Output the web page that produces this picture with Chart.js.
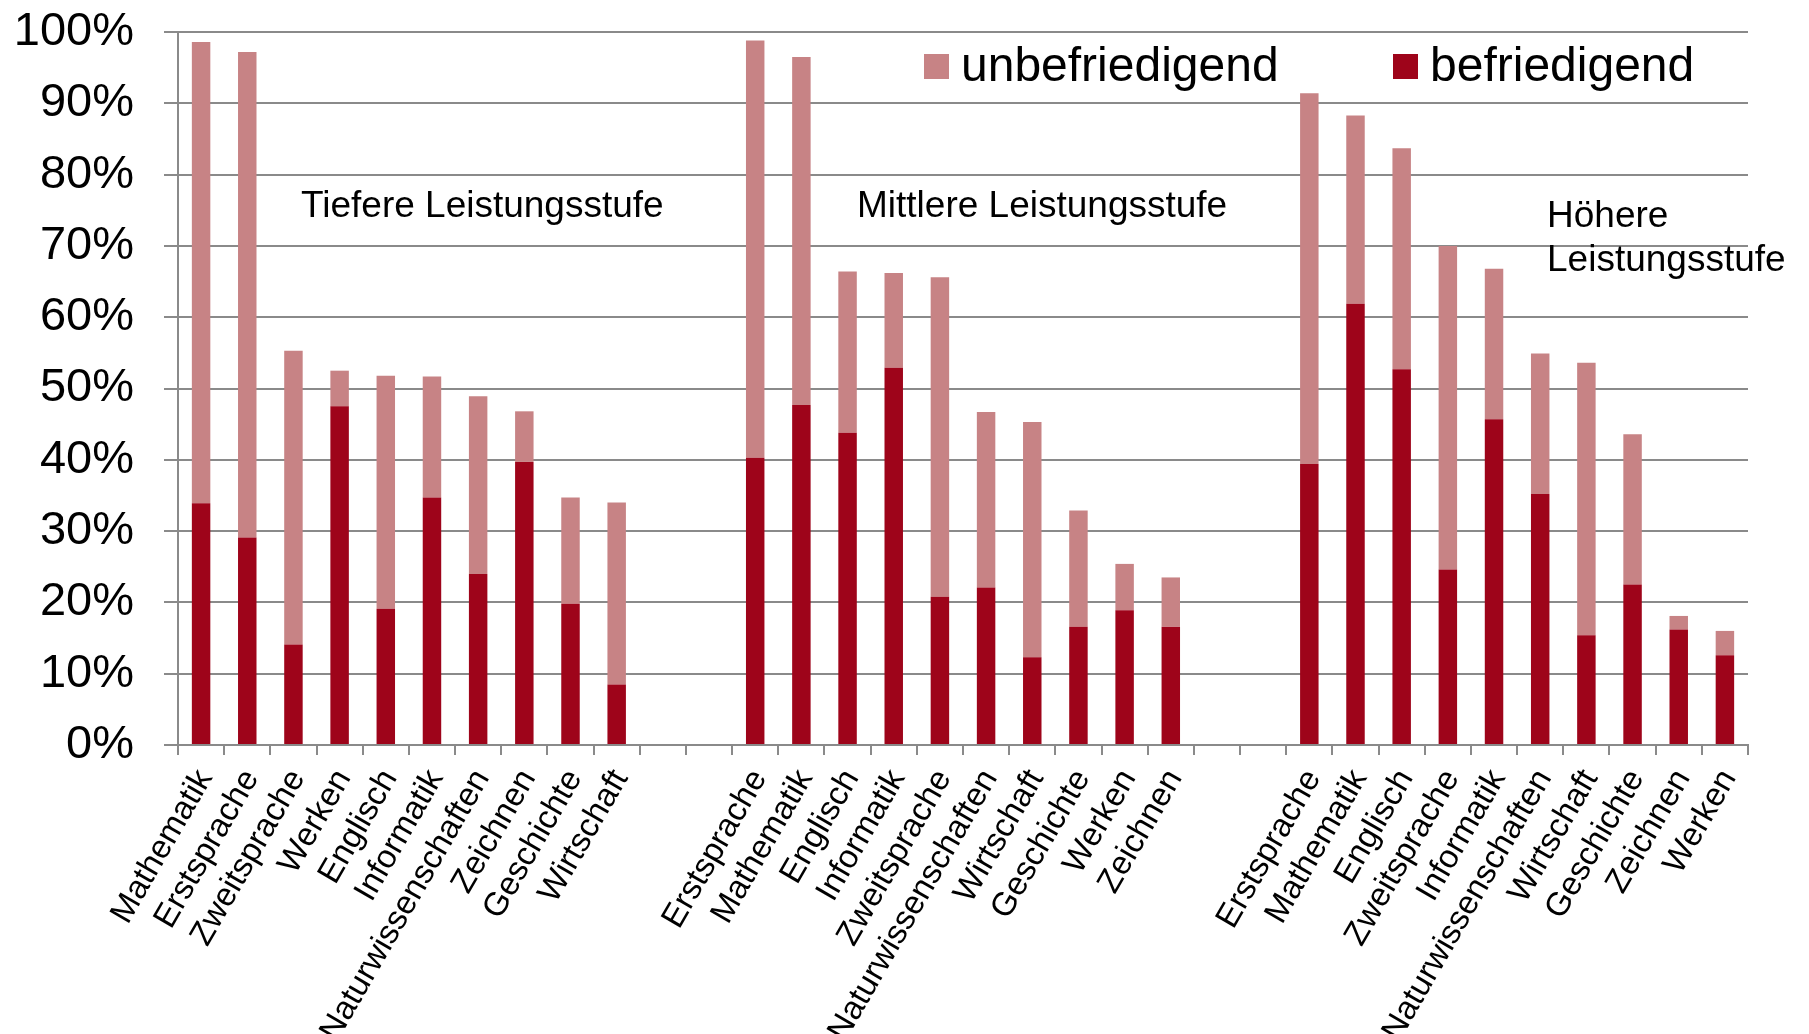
<!DOCTYPE html>
<html>
<head>
<meta charset="utf-8">
<script src="https://cdn.jsdelivr.net/npm/chart.js@4/dist/chart.umd.min.js"></script>
<style>
  html, body { margin: 0; padding: 0; background: #ffffff; }
  #wrap { width: 1809px; height: 1034px; }
</style>
</head>
<body>
<div id="wrap"><canvas id="c" width="1809" height="1034"></canvas></div>
<script>
// Categories (empty strings are the gaps between the three groups)
const categories = [
  "Mathematik", "Erstsprache", "Zweitsprache", "Werken", "Englisch", "Informatik",
  "Naturwissenschaften", "Zeichnen", "Geschichte", "Wirtschaft",
  "", "",
  "Erstsprache", "Mathematik", "Englisch", "Informatik", "Zweitsprache",
  "Naturwissenschaften", "Wirtschaft", "Geschichte", "Werken", "Zeichnen",
  "", "",
  "Erstsprache", "Mathematik", "Englisch", "Zweitsprache", "Informatik",
  "Naturwissenschaften", "Wirtschaft", "Geschichte", "Zeichnen", "Werken"
];

// "befriedigend" share (dark, bottom segment), in %
const befriedigend = [
  33.9, 29.1, 14.1, 47.5, 19.1, 34.7, 24.0, 39.7, 19.8, 8.5,
  null, null,
  40.3, 47.7, 43.8, 52.9, 20.8, 22.1, 12.3, 16.6, 18.9, 16.6,
  null, null,
  39.4, 61.9, 52.7, 24.6, 45.7, 35.2, 15.4, 22.5, 16.2, 12.6
];

// "unbefriedigend" share (light, top segment), in %
const unbefriedigend = [
  64.7, 68.1, 41.2, 5.0, 32.7, 17.0, 24.9, 7.1, 14.9, 25.5,
  null, null,
  58.5, 48.8, 22.6, 13.3, 44.8, 24.6, 33.0, 16.3, 6.5, 6.9,
  null, null,
  52.0, 26.4, 31.0, 45.4, 21.1, 19.7, 38.2, 21.1, 1.9, 3.4
];

// Y-axis tick values
const yTicks = [0, 10, 20, 30, 40, 50, 60, 70, 80, 90, 100];

const groupLabels = ["Tiefere Leistungsstufe", "Mittlere Leistungsstufe", ["Höhere", "Leistungsstufe"]];
const seriesNames = ["befriedigend", "unbefriedigend"];

const DARK = "#9E041A";
const LIGHT = "#C78385";
const GRID = "#8a8a8a";
const FONT = '"Liberation Sans", Arial, sans-serif';

const overlay = {
  id: "overlay",
  afterDraw(chart) {
    const ctx = chart.ctx;
    ctx.save();
    // legend
    ctx.font = "48px " + FONT;
    ctx.textBaseline = "alphabetic";
    ctx.textAlign = "left";
    ctx.fillStyle = LIGHT;
    ctx.fillRect(924, 54, 25, 25);
    ctx.fillStyle = "#000";
    ctx.fillText(seriesNames[1], 961, 81);
    ctx.fillStyle = DARK;
    ctx.fillRect(1393, 54, 25, 25);
    ctx.fillStyle = "#000";
    ctx.fillText(seriesNames[0], 1430, 81);
    // group annotations
    ctx.font = "37px " + FONT;
    ctx.fillText(groupLabels[0], 301, 217);
    ctx.fillText(groupLabels[1], 857, 217);
    ctx.fillText(groupLabels[2][0], 1547, 226.5);
    ctx.fillText(groupLabels[2][1], 1547, 270.5);
    ctx.restore();
  }
};

new Chart(document.getElementById("c"), {
  type: "bar",
  data: {
    labels: categories,
    datasets: [
      { label: seriesNames[0], data: befriedigend, backgroundColor: DARK,
        barPercentage: 0.4, categoryPercentage: 1.0 },
      { label: seriesNames[1], data: unbefriedigend, backgroundColor: LIGHT,
        barPercentage: 0.4, categoryPercentage: 1.0 }
    ]
  },
  options: {
    responsive: false,
    devicePixelRatio: 1,
    animation: false,
    layout: { padding: { top: 32, right: 61, left: 0, bottom: 0 } },
    plugins: {
      legend: { display: false },
      tooltip: { enabled: false }
    },
    scales: {
      x: {
        stacked: true,
        offset: true,
        grid: {
          offset: true,
          drawOnChartArea: false,
          drawTicks: true,
          tickLength: 10,
          color: GRID,
          lineWidth: 2
        },
        border: { color: GRID, width: 2 },
        ticks: {
          autoSkip: false,
          minRotation: 60,
          maxRotation: 60,
          padding: 8,
          labelOffset: 4,
          color: "#000",
          font: { family: FONT, size: 33 }
        },
        afterFit(scale) { scale.height = 289; scale.paddingLeft = 0; scale.paddingRight = 0; }
      },
      y: {
        stacked: true,
        min: 0,
        max: 100,
        afterBuildTicks(scale) { scale.ticks = yTicks.map(v => ({ value: v })); },
        grid: {
          color: GRID,
          lineWidth: 2,
          drawTicks: true,
          tickLength: 14
        },
        border: { color: GRID, width: 2 },
        ticks: {
          padding: 30,
          color: "#000",
          font: { family: FONT, size: 47 },
          callback: v => v + "%"
        },
        afterFit(scale) { scale.width = 178; scale.paddingTop = 0; scale.paddingBottom = 0; }
      }
    }
  },
  plugins: [overlay]
});
</script>
</body>
</html>
